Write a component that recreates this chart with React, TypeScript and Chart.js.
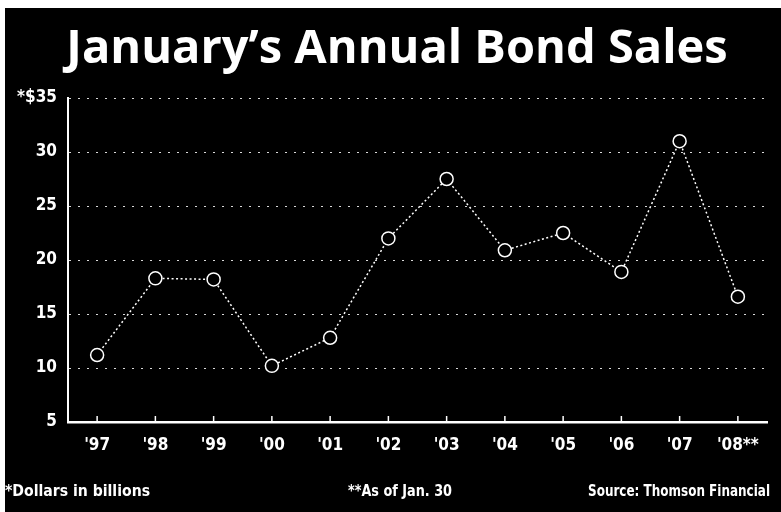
import React, { useEffect, useRef } from "react";
import { Chart, registerables } from "chart.js";

Chart.register(...registerables);

const categories = ["'97", "'98", "'99", "'00", "'01", "'02", "'03", "'04", "'05", "'06", "'07", "'08**"];
const bondSales = [11.2, 18.3, 18.2, 10.2, 12.8, 22.0, 27.5, 20.9, 22.5, 18.9, 31.0, 16.6];
const yTicks = [5, 10, 15, 20, 25, 30, 35];
const yTopLabel = "*$35";
const titleText = "January\u2019s Annual Bond Sales";
const footLeft = "*Dollars in billions";
const footMid = "**As of Jan. 30";
const footRight = "Source: Thomson Financial";

const CONDENSED = "'Liberation Sans Narrow', 'DejaVu Sans Condensed', 'Open Sans', sans-serif";

const decorPlugin = {
  id: "decor",
  afterDraw(chart: any) {
    const ctx = chart.ctx;
    const x = chart.scales.x;
    const area = chart.chartArea;
    ctx.save();
    // upward tick marks on x axis
    ctx.strokeStyle = "#fff";
    ctx.lineWidth = 1.5;
    categories.forEach((_, i) => {
      const px = x.getPixelForValue(i);
      ctx.beginPath();
      ctx.moveTo(px, area.bottom);
      ctx.lineTo(px, area.bottom - 6);
      ctx.stroke();
    });
    // title
    ctx.fillStyle = "#fff";
    ctx.font = "bold 47px 'Open Sans', sans-serif";
    ctx.textAlign = "center";
    ctx.textBaseline = "alphabetic";
    ctx.fillText(titleText, 392, 55);
    // footer
    ctx.font = "bold 16px " + CONDENSED;
    ctx.textBaseline = "middle";
    ctx.textAlign = "left";
    ctx.fillText(footLeft, 0, 484, 145);
    ctx.fillText(footMid, 343, 484, 104);
    ctx.textAlign = "right";
    ctx.fillText(footRight, 765, 484, 182);
    ctx.restore();
  },
};

export default function App() {
  const ref = useRef<HTMLCanvasElement | null>(null);
  useEffect(() => {
    if (!ref.current) return;
    const chart = new Chart(ref.current, {
      type: "line",
      data: {
        labels: categories,
        datasets: [
          {
            data: bondSales,
            borderColor: "#fff",
            borderWidth: 1.5,
            borderDash: [2, 2.5],
            tension: 0,
            pointRadius: 6.5,
            pointBorderWidth: 1.5,
            pointBackgroundColor: "#000",
            pointBorderColor: "#fff",
          },
        ],
      },
      options: {
        responsive: false,
        animation: false,
        layout: { padding: { top: 90, right: 14, bottom: 50, left: 0 } },
        plugins: { legend: { display: false }, title: { display: false }, tooltip: { enabled: false } },
        scales: {
          x: {
            offset: true,
            grid: { display: false, offset: false },
            border: { display: true, color: "#fff", width: 2.5 },
            ticks: {
              color: "#fff",
              padding: 5,
              font: { family: CONDENSED, size: 17, weight: "bold" },
              maxRotation: 0,
              autoSkip: false,
            },
            afterFit: (s: any) => {
              s.height = 40;
            },
          },
          y: {
            min: 5,
            max: 35,
            afterBuildTicks: (s: any) => {
              s.ticks = yTicks.map((v) => ({ value: v }));
            },
            grid: {
              drawTicks: false,
              color: (c: any) => (c.tick && c.tick.value === 5 ? "rgba(0,0,0,0)" : "rgba(255,255,255,0.85)"),
              lineWidth: 1,
            },
            border: { display: true, color: "#fff", width: 2, dash: [2, 7] },
            ticks: {
              color: "#fff",
              padding: 11,
              font: { family: CONDENSED, size: 17, weight: "bold" },
              callback: (v: any) => (v === 35 ? yTopLabel : String(v)),
            },
            afterFit: (s: any) => {
              s.width = 63;
            },
          },
        },
      },
      plugins: [decorPlugin],
    });
    return () => chart.destroy();
  }, []);
  return (
    <div style={{ position: "fixed", left: 0, top: 0, width: 781, height: 512, background: "#fff" }}>
      <canvas
        ref={ref}
        width={776}
        height={504}
        style={{ position: "absolute", left: 5, top: 8, width: 776, height: 504, background: "#000" }}
      />
    </div>
  );
}
